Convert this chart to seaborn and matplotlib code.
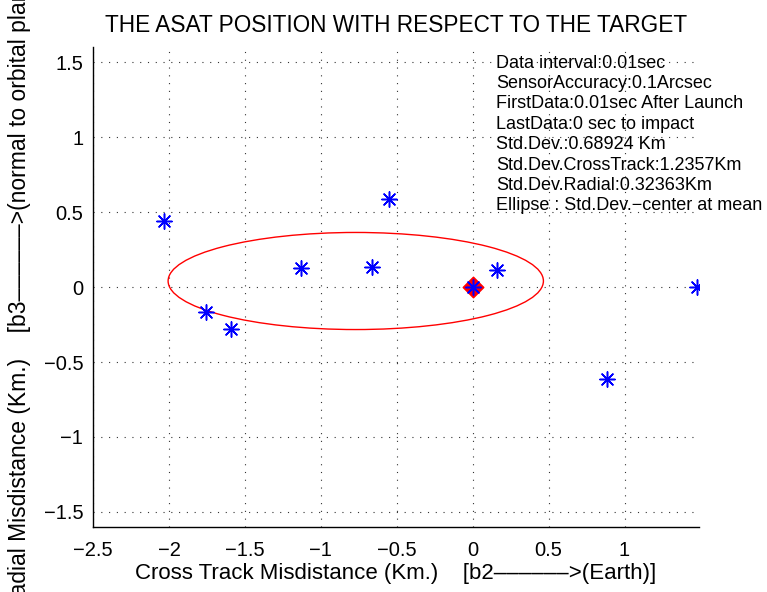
import matplotlib
matplotlib.use("Agg")
import matplotlib.pyplot as plt
from matplotlib.patches import Ellipse
import seaborn as sns
import pandas as pd

# ---- data ----
cross_track = [-2.03, -1.755, -1.59, -1.13, -0.664, -0.552, 0.0, 0.162, 1.477, 0.882]
radial      = [0.44, -0.167, -0.28, 0.127, 0.133, 0.587, 0.0, 0.113, 0.0, -0.613]
target_x = [0.0]
target_y = [0.0]
ellipse_center = (-0.77, 0.04)
std_cross = 1.2357
std_radial = 0.32363
x_ticks = [-2.5, -2, -1.5, -1, -0.5, 0, 0.5, 1]
y_ticks = [-1.5, -1, -0.5, 0, 0.5, 1, 1.5]
info_lines = [
    "Data interval:0.01sec",
    "SensorAccuracy:0.1Arcsec",
    "FirstData:0.01sec After Launch",
    "LastData:0 sec to impact",
    "Std.Dev.:0.68924 Km",
    "Std.Dev.CrossTrack:1.2357Km",
    "Std.Dev.Radial:0.32363Km",
    "Ellipse : Std.Dev.\u2212center at mean",
]
title = "THE ASAT POSITION WITH RESPECT TO THE TARGET"
xlabel = "Cross Track Misdistance (Km.)    [b2\u2013\u2013\u2013\u2013\u2013\u2013>(Earth)]"
ylabel = "Radial Misdistance (Km.)    [b3\u2013\u2013\u2013\u2013\u2013\u2013>(normal to orbital plane)]"

sns.set_style("white")
plt.rcParams["font.family"] = ["Liberation Sans", "DejaVu Sans"]
plt.rcParams["text.color"] = "black"
plt.rcParams["axes.labelcolor"] = "black"
plt.rcParams["xtick.color"] = "black"
plt.rcParams["ytick.color"] = "black"

df = pd.DataFrame({"x": cross_track, "y": radial})
tgt = pd.DataFrame({"x": target_x, "y": target_y})

fig = plt.figure(figsize=(7.67, 5.92), dpi=100)
ax = fig.add_axes([0.1213, 0.1098, 0.79, 0.8108])

# grid
ax.set_axisbelow(True)
ax.grid(True, color="#333333", linestyle=(0, (1, 6)), linewidth=0.8)

# ellipse
ax.add_patch(Ellipse(ellipse_center, 2 * std_cross, 2 * std_radial,
                     fill=False, edgecolor=(1, 0, 0), linewidth=1.0, zorder=2))

# target diamond
sns.scatterplot(data=tgt, x="x", y="y", marker="D", s=110, color=(1, 0, 0),
                edgecolor=(1, 0, 0), linewidth=1, ax=ax, zorder=3)

# ASAT points (asterisk)
sns.scatterplot(data=df, x="x", y="y", marker=(8, 2, 0), s=120,
                color=(0, 0, 1), edgecolor=(0, 0, 1), linewidth=1.1, ax=ax, zorder=4)

ax.set_xlim(-2.5, 1.49)
ax.set_ylim(-1.6, 1.6)
ax.set_xticks(x_ticks)
ax.set_yticks(y_ticks)
ax.set_xticklabels([f"{t:g}".replace("-", "\u2212") for t in x_ticks])
ax.set_yticklabels([f"{t:g}".replace("-", "\u2212") for t in y_ticks])

for s in ["top", "right"]:
    ax.spines[s].set_visible(False)
for s in ["left", "bottom"]:
    ax.spines[s].set_color("black")
    ax.spines[s].set_linewidth(1.0)

ax.tick_params(axis="both", direction="in", length=5, width=0.8, colors="black",
               labelsize=14.5)
ax.tick_params(axis="x", pad=10)
ax.tick_params(axis="y", pad=7)

ax.set_xlabel(xlabel, fontsize=16, labelpad=2)
ax.set_ylabel(ylabel, fontsize=16.5, labelpad=9)
ax.set_title(title, fontsize=16.3, pad=11)

ax.text(0.665, 0.984, "\n".join(info_lines), transform=ax.transAxes,
        fontsize=13, va="top", ha="left", linespacing=1.26)

fig.savefig("out.png", dpi=100)
